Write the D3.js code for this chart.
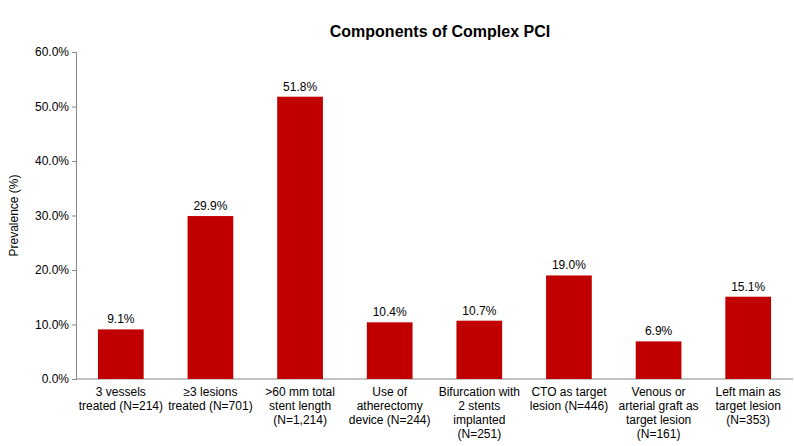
<!DOCTYPE html>
<html><head><meta charset="utf-8">
<script src="https://cdn.jsdelivr.net/npm/d3@7"></script>
<style>body{margin:0;background:#fff;font-family:"Liberation Sans",Arial,sans-serif}</style>
</head><body><svg id="c" width="794" height="446"></svg>
<script>
const categories = [
  ["3 vessels","treated (N=214)"],
  ["≥3 lesions","treated (N=701)"],
  [">60 mm total","stent length","(N=1,214)"],
  ["Use of","atherectomy","device (N=244)"],
  ["Bifurcation with","2 stents","implanted","(N=251)"],
  ["CTO as target","lesion (N=446)"],
  ["Venous or","arterial graft as","target lesion","(N=161)"],
  ["Left main as","target lesion","(N=353)"]
];
const values = [9.1, 29.9, 51.8, 10.4, 10.7, 19.0, 6.9, 15.1];
const yTicks = [0,10,20,30,40,50,60];

const svg = d3.select("#c");
const m = {l:76, r:793, t:52, b:379};
const x = d3.scaleBand().domain(d3.range(values.length)).range([m.l, m.r]).paddingInner(0.49).paddingOuter(0.245);
const y = d3.scaleLinear().domain([0,60]).range([m.b, m.t]);

svg.append("text").attr("x",440).attr("y",37).attr("text-anchor","middle")
  .attr("font-size",16).attr("font-weight","bold").text("Components of Complex PCI");

const ya = svg.append("g").attr("transform",`translate(${m.l},0)`)
  .call(d3.axisLeft(y).tickValues(yTicks).tickFormat(d=>d.toFixed(1)+"%").tickSize(4));
ya.select(".domain").attr("stroke","#888");
ya.selectAll(".tick line").attr("stroke","#888");
ya.selectAll("text").attr("font-size",12).attr("fill","#000").attr("font-family","Liberation Sans, Arial");

svg.append("text").attr("transform",`translate(18,${(m.t+m.b)/2}) rotate(-90)`)
  .attr("text-anchor","middle").attr("font-size",12).text("Prevalence (%)");

svg.append("line").attr("x1",m.l).attr("x2",m.r).attr("y1",m.b).attr("y2",m.b).attr("stroke","#888");

svg.selectAll("rect.bar").data(values).join("rect").attr("class","bar")
  .attr("x",(d,i)=>x(i)).attr("width",x.bandwidth())
  .attr("y",d=>y(d)).attr("height",d=>y(0)-y(d)).attr("fill","#C00000");

svg.selectAll("text.val").data(values).join("text").attr("class","val")
  .attr("x",(d,i)=>x(i)+x.bandwidth()/2).attr("y",d=>y(d)-6)
  .attr("text-anchor","middle").attr("font-size",12).text(d=>d.toFixed(1)+"%");

const lab = svg.selectAll("text.cat").data(categories).join("text").attr("class","cat")
  .attr("text-anchor","middle").attr("font-size",12)
  .attr("transform",(d,i)=>`translate(${x(i)+x.bandwidth()/2},${m.b+17})`);
lab.selectAll("tspan").data(d=>d).join("tspan").attr("x",0).attr("dy",(d,j)=>j?14:0).text(d=>d);
</script></body></html>
